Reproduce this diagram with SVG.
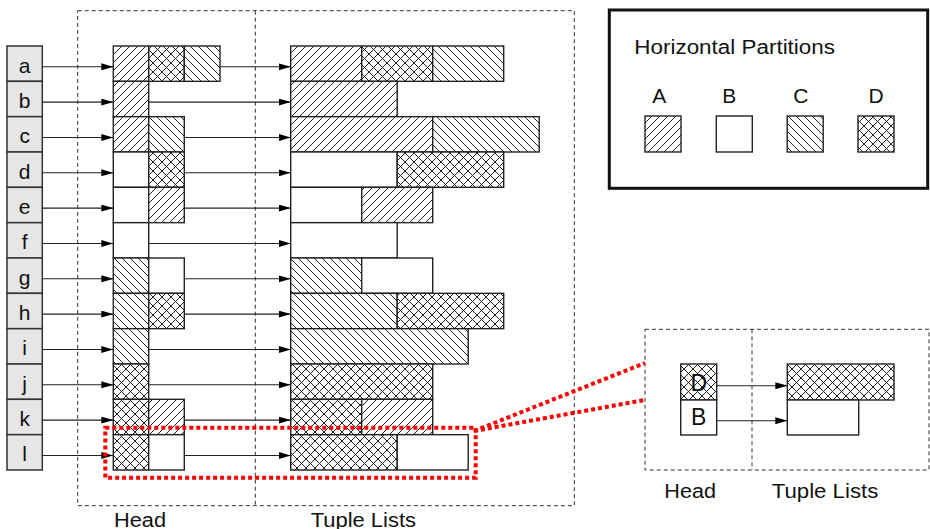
<svg xmlns="http://www.w3.org/2000/svg" width="930" height="529" viewBox="0 0 930 529">
  <style>
    text { font-family: "Liberation Sans", Arial, sans-serif; fill: #111; }
    .key { fill: #e6e6e6; stroke: #333; stroke-width: 1.5; }
    .cell { stroke: #222; stroke-width: 1.4; }
    .pA { fill: url(#hatchA); }
    .pB { fill: #fff; }
    .pC { fill: url(#hatchC); }
    .pD { fill: url(#hatchD); }
    .frame { fill: none; stroke: #333; stroke-width: 1; stroke-dasharray: 4 3; }
    .link { fill: none; stroke: #222; stroke-width: 1.1; marker-end: url(#arrow); }
    .zoom { fill: none; stroke: #f00; stroke-width: 4; stroke-dasharray: 4 3; }
    .keyTxt { font-size: 21px; text-anchor: middle; }
    .cap { font-size: 20px; }
  </style>
  <defs>
    <pattern id="hatchA" width="8" height="8" patternUnits="userSpaceOnUse">
      <rect width="8" height="8" fill="#fff"/>
      <path d="M-2,2 L2,-2 M0,8 L8,0 M6,10 L10,6" stroke="#222" stroke-width="1"/>
    </pattern>
    <pattern id="hatchC" width="8" height="8" patternUnits="userSpaceOnUse">
      <rect width="8" height="8" fill="#fff"/>
      <path d="M-2,6 L2,10 M0,0 L8,8 M6,-2 L10,2" stroke="#222" stroke-width="1"/>
    </pattern>
    <pattern id="hatchD" width="9" height="9" patternUnits="userSpaceOnUse">
      <rect width="9" height="9" fill="#fff"/>
      <path d="M-2,2 L2,-2 M0,9 L9,0 M7,11 L11,7 M-2,7 L2,11 M0,0 L9,9 M7,-2 L11,2" stroke="#222" stroke-width="1"/>
    </pattern>
    <marker id="arrow" markerWidth="12" markerHeight="8" refX="12" refY="3.5" orient="auto" markerUnits="userSpaceOnUse">
      <path d="M0,0 L12,3.5 L0,7 z" fill="#000"/>
    </marker>
  </defs>

  <rect width="930" height="529" fill="#fff"/>

  <!-- dashed frames of the main structure -->
  <g id="frames">
    <rect class="frame" x="77.7" y="10.7" width="496.6" height="495"/>
    <line class="frame" x1="255.3" y1="10.7" x2="255.3" y2="505.7"/>
    <text class="cap" x="114" y="526.5" textLength="52" lengthAdjust="spacingAndGlyphs">Head</text>
    <text class="cap" x="310.7" y="526.5" textLength="105.3" lengthAdjust="spacingAndGlyphs">Tuple Lists</text>
  </g>

  <!-- key column -->
  <g id="keys">
    <g id="key-a"><rect class="key" x="7" y="46" width="35.3" height="35.33"/><text class="keyTxt" x="24.7" y="72.5">a</text></g>
    <g id="key-b"><rect class="key" x="7" y="81.33" width="35.3" height="35.33"/><text class="keyTxt" x="24.7" y="107.8">b</text></g>
    <g id="key-c"><rect class="key" x="7" y="116.67" width="35.3" height="35.33"/><text class="keyTxt" x="24.7" y="143.2">c</text></g>
    <g id="key-d"><rect class="key" x="7" y="152" width="35.3" height="35.33"/><text class="keyTxt" x="24.7" y="178.5">d</text></g>
    <g id="key-e"><rect class="key" x="7" y="187.33" width="35.3" height="35.33"/><text class="keyTxt" x="24.7" y="213.8">e</text></g>
    <g id="key-f"><rect class="key" x="7" y="222.67" width="35.3" height="35.33"/><text class="keyTxt" x="24.7" y="249.2">f</text></g>
    <g id="key-g"><rect class="key" x="7" y="258" width="35.3" height="35.33"/><text class="keyTxt" x="24.7" y="284.5">g</text></g>
    <g id="key-h"><rect class="key" x="7" y="293.33" width="35.3" height="35.33"/><text class="keyTxt" x="24.7" y="319.8">h</text></g>
    <g id="key-i"><rect class="key" x="7" y="328.67" width="35.3" height="35.33"/><text class="keyTxt" x="24.7" y="355.2">i</text></g>
    <g id="key-j"><rect class="key" x="7" y="364" width="35.3" height="35.33"/><text class="keyTxt" x="24.7" y="390.5">j</text></g>
    <g id="key-k"><rect class="key" x="7" y="399.33" width="35.3" height="35.33"/><text class="keyTxt" x="24.7" y="425.8">k</text></g>
    <g id="key-l"><rect class="key" x="7" y="434.67" width="35.3" height="35.33"/><text class="keyTxt" x="24.7" y="461.2">l</text></g>
  </g>

  <!-- head cells -->
  <g id="heads">
    <g id="head-a"><rect class="cell pA" x="113.3" y="46" width="35.4" height="35.33"/><rect class="cell pD" x="148.7" y="46" width="35.6" height="35.33"/><rect class="cell pC" x="184.3" y="46" width="35.7" height="35.33"/></g>
    <g id="head-b"><rect class="cell pA" x="113.3" y="81.33" width="35.4" height="35.33"/></g>
    <g id="head-c"><rect class="cell pA" x="113.3" y="116.67" width="35.4" height="35.33"/><rect class="cell pC" x="148.7" y="116.67" width="35.6" height="35.33"/></g>
    <g id="head-d"><rect class="cell pB" x="113.3" y="152" width="35.4" height="35.33"/><rect class="cell pD" x="148.7" y="152" width="35.6" height="35.33"/></g>
    <g id="head-e"><rect class="cell pB" x="113.3" y="187.33" width="35.4" height="35.33"/><rect class="cell pA" x="148.7" y="187.33" width="35.6" height="35.33"/></g>
    <g id="head-f"><rect class="cell pB" x="113.3" y="222.67" width="35.4" height="35.33"/></g>
    <g id="head-g"><rect class="cell pC" x="113.3" y="258" width="35.4" height="35.33"/><rect class="cell pB" x="148.7" y="258" width="35.6" height="35.33"/></g>
    <g id="head-h"><rect class="cell pC" x="113.3" y="293.33" width="35.4" height="35.33"/><rect class="cell pD" x="148.7" y="293.33" width="35.6" height="35.33"/></g>
    <g id="head-i"><rect class="cell pC" x="113.3" y="328.67" width="35.4" height="35.33"/></g>
    <g id="head-j"><rect class="cell pD" x="113.3" y="364" width="35.4" height="35.33"/></g>
    <g id="head-k"><rect class="cell pD" x="113.3" y="399.33" width="35.4" height="35.33"/><rect class="cell pA" x="148.7" y="399.33" width="35.6" height="35.33"/></g>
    <g id="head-l"><rect class="cell pD" x="113.3" y="434.67" width="35.4" height="35.33"/><rect class="cell pB" x="148.7" y="434.67" width="35.6" height="35.33"/></g>
  </g>

  <!-- tuple lists (35.5 px per unit) -->
  <g id="tuples">
    <g id="tuple-a"><rect class="cell pA" x="290.7" y="46" width="71" height="35.33"/><rect class="cell pD" x="361.7" y="46" width="71" height="35.33"/><rect class="cell pC" x="432.7" y="46" width="71" height="35.33"/></g>
    <g id="tuple-b"><rect class="cell pA" x="290.7" y="81.33" width="106.5" height="35.33"/></g>
    <g id="tuple-c"><rect class="cell pA" x="290.7" y="116.67" width="142" height="35.33"/><rect class="cell pC" x="432.7" y="116.67" width="106.5" height="35.33"/></g>
    <g id="tuple-d"><rect class="cell pB" x="290.7" y="152" width="106.5" height="35.33"/><rect class="cell pD" x="397.2" y="152" width="106.5" height="35.33"/></g>
    <g id="tuple-e"><rect class="cell pB" x="290.7" y="187.33" width="71" height="35.33"/><rect class="cell pA" x="361.7" y="187.33" width="71" height="35.33"/></g>
    <g id="tuple-f"><rect class="cell pB" x="290.7" y="222.67" width="106.5" height="35.33"/></g>
    <g id="tuple-g"><rect class="cell pC" x="290.7" y="258" width="71" height="35.33"/><rect class="cell pB" x="361.7" y="258" width="71" height="35.33"/></g>
    <g id="tuple-h"><rect class="cell pC" x="290.7" y="293.33" width="106.5" height="35.33"/><rect class="cell pD" x="397.2" y="293.33" width="106.5" height="35.33"/></g>
    <g id="tuple-i"><rect class="cell pC" x="290.7" y="328.67" width="177.5" height="35.33"/></g>
    <g id="tuple-j"><rect class="cell pD" x="290.7" y="364" width="142" height="35.33"/></g>
    <g id="tuple-k"><rect class="cell pD" x="290.7" y="399.33" width="71" height="35.33"/><rect class="cell pA" x="361.7" y="399.33" width="71" height="35.33"/></g>
    <g id="tuple-l"><rect class="cell pD" x="290.7" y="434.67" width="106.5" height="35.33"/><rect class="cell pB" x="397.2" y="434.67" width="71" height="35.33"/></g>
  </g>

  <!-- connectors: key -> head, head -> tuple list -->
  <g id="connectors">
    <line class="link" x1="42.3" y1="66.8" x2="113.3" y2="66.8"/>
    <line class="link" x1="42.3" y1="102.1" x2="113.3" y2="102.1"/>
    <line class="link" x1="42.3" y1="137.5" x2="113.3" y2="137.5"/>
    <line class="link" x1="42.3" y1="172.8" x2="113.3" y2="172.8"/>
    <line class="link" x1="42.3" y1="208.1" x2="113.3" y2="208.1"/>
    <line class="link" x1="42.3" y1="243.5" x2="113.3" y2="243.5"/>
    <line class="link" x1="42.3" y1="278.8" x2="113.3" y2="278.8"/>
    <line class="link" x1="42.3" y1="314.1" x2="113.3" y2="314.1"/>
    <line class="link" x1="42.3" y1="349.5" x2="113.3" y2="349.5"/>
    <line class="link" x1="42.3" y1="384.8" x2="113.3" y2="384.8"/>
    <line class="link" x1="42.3" y1="420.1" x2="113.3" y2="420.1"/>
    <line class="link" x1="42.3" y1="455.5" x2="113.3" y2="455.5"/>

    <line class="link" x1="220" y1="66.8" x2="290.7" y2="66.8"/>
    <line class="link" x1="148.7" y1="102.1" x2="290.7" y2="102.1"/>
    <line class="link" x1="184.3" y1="137.5" x2="290.7" y2="137.5"/>
    <line class="link" x1="184.3" y1="172.8" x2="290.7" y2="172.8"/>
    <line class="link" x1="184.3" y1="208.1" x2="290.7" y2="208.1"/>
    <line class="link" x1="148.7" y1="243.5" x2="290.7" y2="243.5"/>
    <line class="link" x1="184.3" y1="278.8" x2="290.7" y2="278.8"/>
    <line class="link" x1="184.3" y1="314.1" x2="290.7" y2="314.1"/>
    <line class="link" x1="148.7" y1="349.5" x2="290.7" y2="349.5"/>
    <line class="link" x1="148.7" y1="384.8" x2="290.7" y2="384.8"/>
    <line class="link" x1="184.3" y1="420.1" x2="290.7" y2="420.1"/>
    <line class="link" x1="184.3" y1="455.5" x2="290.7" y2="455.5"/>

    <line class="link" x1="716.7" y1="385.7" x2="787.3" y2="385.7"/>
    <line class="link" x1="716.7" y1="420.7" x2="787.3" y2="420.7"/>
  </g>

  <!-- legend -->
  <g id="legend">
    <rect x="609.3" y="10" width="318.4" height="178.3" fill="none" stroke="#111" stroke-width="3"/>
    <text x="634.3" y="54" font-size="20" textLength="200.7" lengthAdjust="spacingAndGlyphs">Horizontal Partitions</text>
    <text class="keyTxt" x="659.2" y="103.3">A</text>
    <text class="keyTxt" x="729.2" y="103.3">B</text>
    <text class="keyTxt" x="800.8" y="103.3">C</text>
    <text class="keyTxt" x="876" y="103.3">D</text>
    <rect class="cell pA" x="645" y="116" width="36" height="36"/>
    <rect class="cell pB" x="716.3" y="116" width="36" height="36"/>
    <rect class="cell pC" x="787.2" y="116" width="36" height="36"/>
    <rect class="cell pD" x="858" y="116" width="36" height="36"/>
  </g>

  <!-- enlarged view of row l -->
  <g id="detail">
    <rect class="frame" x="645" y="329.3" width="284" height="140.7"/>
    <line class="frame" x1="752" y1="329.3" x2="752" y2="470"/>
    <g id="detail-head">
      <rect class="cell pD" x="680.7" y="364" width="36" height="36"/>
      <rect class="cell pB" x="680.7" y="400" width="36" height="35"/>
      <text x="698.7" y="390.7" font-size="23" text-anchor="middle">D</text>
      <text x="698.7" y="425" font-size="23" text-anchor="middle">B</text>
    </g>
    <g id="detail-tuples">
      <rect class="cell pD" x="787.3" y="364" width="106.7" height="36"/>
      <rect class="cell pB" x="787.3" y="400" width="71.4" height="35"/>
    </g>
    <text class="cap" x="664.3" y="498.3" textLength="51.7" lengthAdjust="spacingAndGlyphs">Head</text>
    <text class="cap" x="771.7" y="498.3" textLength="106.6" lengthAdjust="spacingAndGlyphs">Tuple Lists</text>
  </g>

  <!-- highlight of row l and its zoom lines -->
  <g id="highlight">
    <rect class="zoom" x="105.3" y="427.7" width="370.4" height="50"/>
    <line class="zoom" x1="474" y1="431" x2="645" y2="363"/>
    <line class="zoom" x1="474" y1="431" x2="645" y2="400"/>
  </g>
</svg>
